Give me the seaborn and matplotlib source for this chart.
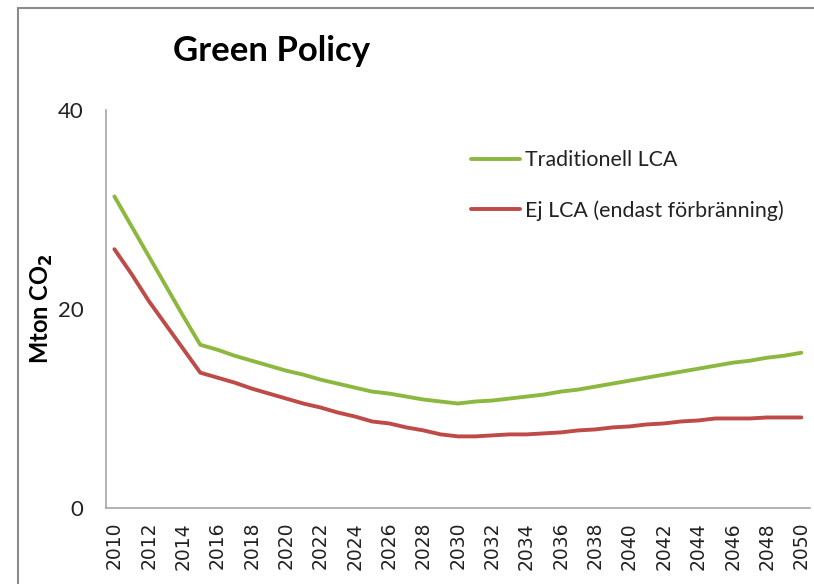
import pandas as pd
import numpy as np
import matplotlib.pyplot as plt
import seaborn as sns
from matplotlib.patches import Rectangle

# data (Mton CO2 per year)
years = list(range(2010, 2051))
traditionell_lca = [31.3, 28.3, 25.3, 22.3, 19.3, 16.4, 15.9, 15.3, 14.8, 14.3,
                    13.8, 13.4, 12.9, 12.5, 12.1, 11.7, 11.5, 11.2, 10.9, 10.7,
                    10.5, 10.7, 10.8, 11.0, 11.2, 11.4, 11.7, 11.9, 12.2, 12.5,
                    12.8, 13.1, 13.4, 13.7, 14.0, 14.3, 14.6, 14.8, 15.1, 15.3,
                    15.6]
ej_lca = [26.0, 23.5, 20.8, 18.4, 16.0, 13.6, 13.1, 12.6, 12.0, 11.5,
          11.0, 10.5, 10.1, 9.6, 9.2, 8.7, 8.5, 8.1, 7.8, 7.4,
          7.2, 7.2, 7.3, 7.4, 7.4, 7.5, 7.6, 7.8, 7.9, 8.1,
          8.2, 8.4, 8.5, 8.7, 8.8, 9.0, 9.0, 9.0, 9.1, 9.1,
          9.1]
series_names = ['Traditionell LCA', 'Ej LCA (endast förbränning)']
colors = ['#8DB840', '#BE4B48']
xtick_labels = list(range(2010, 2051, 2))
ytick_values = [0, 20, 40]

df = pd.DataFrame({
    'year': years * 2,
    'value': traditionell_lca + ej_lca,
    'serie': [series_names[0]] * len(years) + [series_names[1]] * len(years),
})

sns.set_style('white')
plt.rcParams['font.family'] = ['Lato', 'DejaVu Sans']

fig = plt.figure(figsize=(8.14, 5.84), dpi=100)
ax = fig.add_axes([0.130, 0.130, 0.865, 0.682])

sns.lineplot(data=df, x='year', y='value', hue='serie', palette=colors,
             hue_order=series_names, linewidth=2.8, ax=ax)

ax.set_xlim(2009.5, 2050.5)
ax.set_ylim(0, 40)
ax.set_xticks(xtick_labels)
ax.set_xticklabels([str(y) for y in xtick_labels], rotation=90,
                   fontsize=13.5, family='DejaVu Sans', color='#222222')
ax.set_yticks(ytick_values)
ax.set_yticklabels([str(v) for v in ytick_values], fontsize=16, color='#222222')
ax.tick_params(axis='y', pad=16, length=0)
ax.tick_params(axis='x', pad=10, length=0)
ax.set_xlabel('')
ax.set_ylabel('')

for s in ['top', 'right']:
    ax.spines[s].set_visible(False)
for s in ['left', 'bottom']:
    ax.spines[s].set_color('#a6a6a6')
    ax.spines[s].set_linewidth(1.2)

leg = ax.legend(frameon=False, loc='upper left', bbox_to_anchor=(0.506, 0.92),
                fontsize=15.4, handlelength=2.3, handletextpad=0.25,
                labelspacing=1.4, borderaxespad=0)
for t in leg.get_texts():
    t.set_color('#222222')

fig.text(0.213, 0.912, 'Green Policy', fontsize=25, fontweight='bold',
         ha='left', va='center', color='black')
fig.text(0.052, 0.472, r'Mton CO$_\mathbf{2}$', fontsize=17, fontweight='bold',
         rotation=90, ha='center', va='center', color='black')

# outer chart frame
fig.patches.append(Rectangle((0.022, -0.05), 1.1, 1.036, transform=fig.transFigure,
                             fill=False, edgecolor='#8c8c8c', linewidth=1.5))

fig.savefig('out.png', dpi=100)
